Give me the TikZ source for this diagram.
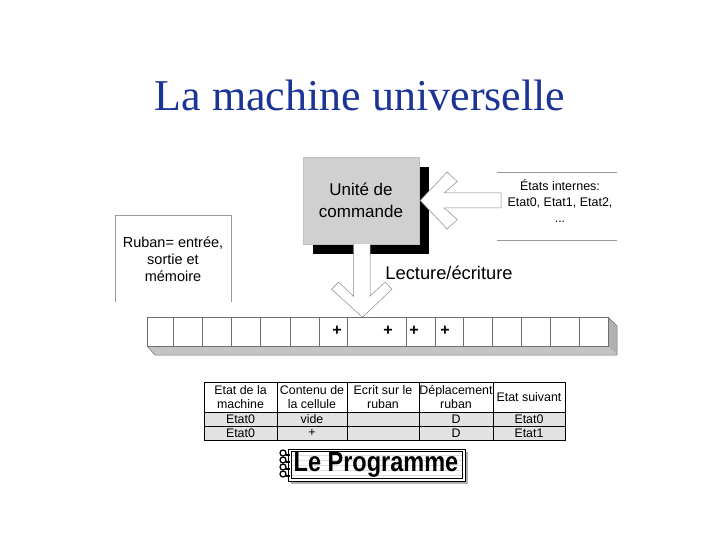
\documentclass[tikz,border=0pt]{standalone}
\usepackage{fontspec}
\setmainfont{Liberation Serif}
\newfontfamily\arialf{Liberation Sans}
\usetikzlibrary{calc}
\definecolor{titleblue}{RGB}{28,52,150}
\definecolor{boxgray}{RGB}{208,208,208}
\definecolor{rowgray}{RGB}{226,226,226}
\definecolor{shadegray}{RGB}{196,196,196}
\definecolor{sidegray}{RGB}{176,176,176}
\definecolor{cellline}{RGB}{110,110,110}
\definecolor{arrline}{RGB}{135,135,135}
\begin{document}
\begin{tikzpicture}[x=1pt,y=-1pt,
  titlestyle/.style={text=titleblue, font=\fontsize{44}{50}\selectfont, inner sep=0},
  unitbox/.style={fill=boxgray, draw=gray!50, line width=0.4pt, minimum width=116, minimum height=87, inner sep=0, align=center, font=\arialf\fontsize{17}{22}\selectfont},
  shadowbox/.style={fill=black, minimum width=116, minimum height=87, inner sep=0},
  fatarrow/.style={draw=arrline, fill=white, line width=0.5pt, line join=miter},
  label/.style={inner sep=0, align=center},
  tcell/.style={font=\arialf\fontsize{12.4}{14}\selectfont, inner sep=0, align=center},
  tline/.style={line width=0.7pt, draw=black},
  plus/.style={font=\arialf\bfseries\fontsize{16}{16}\selectfont, inner sep=0},
]
\useasboundingbox (0,0) rectangle (720,540);

% title
\node[titlestyle] (title) at (360,95) {La machine universelle};

% command unit with shadow
\node[shadowbox] (shadow) at (371,210.5) {};
\node[unitbox] (unit) at (361,200.5) {Unité de\\commande};

% states box
\draw[line width=0.6pt, draw=gray!80] (497,172) -- (617,172);
\draw[line width=0.6pt, draw=gray!80] (497,240) -- (617,240);
\node[label, font=\arialf\fontsize{12.5}{16}\selectfont] (states) at (560,201) {États internes:\\Etat0, Etat1, Etat2,\\...};

% left fat arrow into the unit
\coordinate (ltip) at ($(unit.east)+(1,0)$);
\draw[fatarrow] (ltip) -- ++(27,-28.5) -- ++(10,9.5) -- ++(-13,11.5) -- ++(57,0)
  -- ++(0,15) -- ++(-57,0) -- ++(13,11.5) -- ++(-10,9.5) -- cycle;

% ruban box
\draw[line width=0.6pt, draw=gray!80] (115,302) -- (115,215) -- (231,215) -- (231,302);
\node[label, font=\arialf\fontsize{14.5}{17}\selectfont] (ruban) at (173,259) {Ruban= entrée,\\sortie et\\mémoire};

% tape
\fill[shadegray] (147,346) -- (608,346) -- (617,355) -- (155,355) -- cycle;
\fill[sidegray] (608,317) -- (617,326) -- (617,355) -- (608,346) -- cycle;
\draw[cellline, line width=0.5pt] (147,346) -- (155,355) -- (617,355) -- (617,326) -- (608,317);
\fill[white] (147,317) rectangle (608,346);
\draw[cellline, line width=0.6pt] (147,317) rectangle (608,346);
\foreach \cx in {173,202,231,260,290,319,347,406,435,463,492,521,550,579}
  \draw[cellline, line width=0.6pt] (\cx,317) -- (\cx,346);
\node[plus] (p1) at (337,331) {+};
\node[plus] (p2) at (388,331) {+};
\node[plus] (p3) at (414,331) {+};
\node[plus] (p4) at (445,331) {+};

% down fat arrow from the unit to the tape
\coordinate (dtop) at (unit.south);
\draw[fatarrow] ($(dtop)+(-7.5,0)$) -- ++(0,52) -- ++(-15,-14) -- ++(-7,7) -- ($(dtop)+(1.5,73)$)
  -- ($(dtop)+(31,45)$) -- ++(-7,-7) -- ++(-15,14) -- ($(dtop)+(9,0)$);
\node[label, font=\arialf\fontsize{18.3}{20}\selectfont] (lect) at (449,273) {Lecture/écriture};

% table
\fill[rowgray] (204,412) rectangle (565,440);
\draw[tline] (204,382) rectangle (565,440);
\draw[tline] (204,412) -- (565,412);
\draw[tline] (204,426) -- (565,426);
\foreach \cx in {277,347,419,493}
  \draw[tline] (\cx,382) -- (\cx,440);
\node[tcell] (h1) at (240.5,397) {Etat de la\\machine};
\node[tcell] (h2) at (312,397) {Contenu de\\la cellule};
\node[tcell] (h3) at (383,397) {Ecrit sur le\\ruban};
\node[tcell] (h4) at (456,397) {Déplacement\\ruban};
\node[tcell] (h5) at (529,397) {Etat suivant};
\node[tcell] (a1) at (240.5,419) {Etat0};
\node[tcell] (a2) at (312,419) {vide};
\node[tcell] (a4) at (456,419) {D};
\node[tcell] (a5) at (529,419) {Etat0};
\node[tcell] (b1) at (240.5,433) {Etat0};
\node[tcell] (b2) at (312,433) {+};
\node[tcell] (b4) at (456,433) {D};
\node[tcell] (b5) at (529,433) {Etat1};

% Le Programme
\fill[gray!60] (291,452) rectangle (468,484);
\draw[fill=white, line width=0.8pt] (288,449) rectangle (465,481);
\foreach \ly in {455,460,465,470,475}
  \draw[gray!25, line width=0.4pt] (291,\ly) -- (462,\ly);
\draw[line width=0.5pt] (291,451.5) rectangle (462,478.5);
\foreach \ry in {453,460,467,474} {
  \draw[line width=1.3pt] (283,\ry) circle (3);
  \draw[line width=1.1pt] (285.5,\ry+2) -- (290,\ry+2);
}
\node[inner sep=0, font=\arialf\bfseries\fontsize{23.5}{24}\selectfont] (prog) at (376,465) {\scalebox{1}[1.18]{Le Programme}};
\end{tikzpicture}
\end{document}
